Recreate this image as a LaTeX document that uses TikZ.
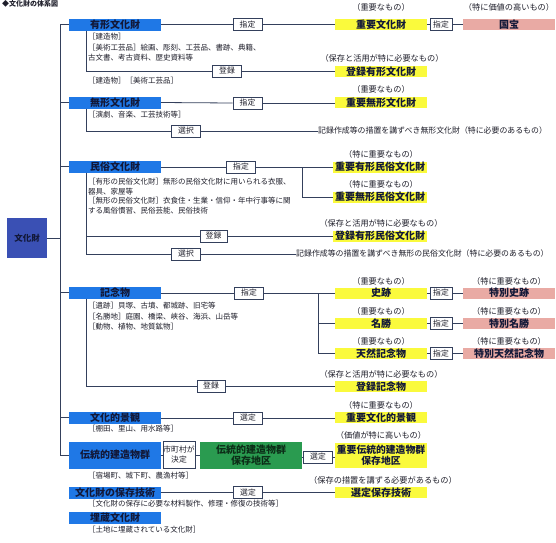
\documentclass[tikz,border=0pt]{standalone}
\usepackage{fontspec}
\setmainfont{Noto Sans CJK JP}
\definecolor{catblue}{HTML}{1F78E6}
\definecolor{rootblue}{HTML}{3A50B4}
\definecolor{yel}{HTML}{FAFA3C}
\definecolor{pnk}{HTML}{E9AAA4}
\definecolor{grn}{HTML}{2A9B50}
\definecolor{ln}{HTML}{34405C}
\definecolor{txt}{HTML}{1E1E2A}
\definecolor{lbltxt}{HTML}{121838}
\definecolor{dkgreen}{HTML}{0C2E18}
\begin{document}
\begin{tikzpicture}[x=1pt,y=-1pt,
  cat/.style={fill=catblue, minimum width=92pt, minimum height=12pt, inner sep=0pt, text=lbltxt, font=\bfseries\fontsize{10}{10}\selectfont},
  ybox/.style={fill=yel, minimum width=92pt, minimum height=11pt, inner sep=0pt, text=lbltxt, font=\bfseries\fontsize{10}{10}\selectfont},
  pbox/.style={fill=pnk, minimum width=92pt, minimum height=11pt, inner sep=0pt, text=lbltxt, font=\bfseries\fontsize{10}{10}\selectfont},
  lbl/.style={draw=ln, fill=white, line width=0.7pt, minimum width=29pt, minimum height=12pt, inner sep=0pt, text=txt, font=\fontsize{7.8}{8}\selectfont},
  lbls/.style={lbl, minimum width=22pt},
  capt/.style={inner sep=0pt, text=txt, font=\fontsize{8.2}{8.5}\selectfont},
  note/.style={anchor=west, inner sep=0pt, text=txt, font=\fontsize{7.5}{8}\selectfont},
  longt/.style={anchor=west, inner sep=0pt, text=txt, font=\fontsize{7.9}{8.5}\selectfont},
  conn/.style={draw=ln, line width=0.8pt}]
\useasboundingbox (0,0) rectangle (556,542);
\clip (0,0) rectangle (556,542);
\fill[white] (0,0) rectangle (556,542);

% title
\node[anchor=north west, inner sep=0pt, text=txt, font=\bfseries\fontsize{7}{8}\selectfont] (title) at (2,0.5) {◆文化財の体系図};

\coordinate (trunkx) at (60,0);
\coordinate (subx) at (86,0);

% root
\node[fill=rootblue, minimum width=40pt, minimum height=40pt, inner sep=0pt, text=lbltxt, font=\bfseries\fontsize{8.5}{9}\selectfont] (root) at (27,238) {文化財};

% categories
\node[cat] (c1) at (115,24.5) {有形文化財};
\node[cat] (c2) at (115,102.5) {無形文化財};
\node[cat] (c3) at (115,166.5) {民俗文化財};
\node[cat] (c4) at (115,292.5) {記念物};
\node[cat] (c5) at (115,417.5) {文化的景観};
\node[cat, minimum height=27pt] (c6) at (115,455) {伝統的建造物群};
\node[cat] (c7) at (115,493) {文化財の保存技術};
\node[cat] (c8) at (115,517.5) {埋蔵文化財};

% trunk
\draw[conn] (c1.west) -- (c1.west -| trunkx) -- (c6.west -| trunkx) -- (c6.west);
\draw[conn] (c2.west) -- (c2.west -| trunkx);
\draw[conn] (c3.west) -- (c3.west -| trunkx);
\draw[conn] (c4.west) -- (c4.west -| trunkx);
\draw[conn] (c5.west) -- (c5.west -| trunkx);
\draw[conn] (root.east) -- (root.east -| trunkx);

% ---------- 有形文化財
\node[note] (n1a) at (88,37) {［建造物］};
\node[note] (n1b) at (88,48) {［美術工芸品］絵画、彫刻、工芸品、書跡、典籍、};
\node[note] (n1c) at (88,58) {古文書、考古資料、歴史資料等};
\node[note] (n1d) at (88,81) {［建造物］［美術工芸品］};
\node[lbl] (s1) at (247.5,24.5) {指定};
\node[ybox] (y1) at (381,24.5) {重要文化財};
\node[capt] (k1) at (381,7) {（重要なもの）};
\node[lbls] (s1b) at (441,24.5) {指定};
\node[pbox] (p1) at (509,24.5) {国宝};
\node[capt] (k1b) at (509,7) {（特に価値の高いもの）};
\draw[conn] (c1.east) -- (s1.west);
\draw[conn] (s1.east) -- (y1.west);
\draw[conn] (y1.east) -- (s1b.west);
\draw[conn] (s1b.east) -- (p1.west);
\node[lbl] (r1) at (227,71) {登録};
\node[ybox] (y2) at (381,71.5) {登録有形文化財};
\node[capt] (k2) at (382,58) {（保存と活用が特に必要なもの）};
\draw[conn] (c1.south -| subx) |- (r1.west);
\draw[conn] (r1.east) -- (y2.west |- r1);

% ---------- 無形文化財
\node[note] (n2a) at (88,115) {［演劇、音楽、工芸技術等］};
\node[lbl] (s2) at (247.5,103) {指定};
\node[ybox] (y3) at (381,102.5) {重要無形文化財};
\node[capt] (k3) at (381,89) {（重要なもの）};
\draw[conn] (c2.east) -- (s2.west);
\draw[conn] (s2.east) -- (y3.west |- s2);
\node[lbl] (e2) at (186,131) {選択};
\node[longt] (t2) at (318,130.5) {記録作成等の措置を講ずべき無形文化財（特に必要のあるもの）};
\draw[conn] (c2.south -| subx) |- (e2.west);
\draw[conn] (e2.east) -- (t2.west |- e2);

% ---------- 民俗文化財
\node[note] (n3a) at (88,182) {［有形の民俗文化財］無形の民俗文化財に用いられる衣服、};
\node[note] (n3b) at (88,192) {器具、家屋等};
\node[note] (n3c) at (88,201) {［無形の民俗文化財］衣食住・生業・信仰・年中行事等に関};
\node[note] (n3d) at (88,210.5) {する風俗慣習、民俗芸能、民俗技術};
\node[lbl] (s3) at (241,167) {指定};
\node[ybox, minimum width=94pt] (y4) at (380,167) {重要有形民俗文化財};
\node[capt] (k4) at (381,154) {（特に重要なもの）};
\node[ybox, minimum width=94pt] (y5) at (380,197) {重要無形民俗文化財};
\node[capt] (k5) at (381,184) {（特に重要なもの）};
\coordinate (j3) at (302,167);
\draw[conn] (c3.east |- s3) -- (s3.west);
\draw[conn] (s3.east) -- (y4.west);
\draw[conn] (j3) |- (y5.west);
\node[lbl, minimum width=27pt] (r3) at (213.5,236) {登録};
\node[ybox, minimum width=94pt] (y6) at (380,236) {登録有形民俗文化財};
\node[capt] (k6) at (381,223) {（保存と活用が特に必要なもの）};
\node[lbl] (e3) at (186,254) {選択};
\node[longt] (t3) at (296,253) {記録作成等の措置を講ずべき無形の民俗文化財（特に必要のあるもの）};
\draw[conn] (c3.south -| subx) |- (e3.west);
\draw[conn] (subx |- r3) -- (r3.west);
\draw[conn] (r3.east) -- (y6.west);
\draw[conn] (e3.east) -- (t3.west |- e3);

% ---------- 記念物
\node[note] (n4a) at (88,306) {［遺跡］貝塚、古墳、都城跡、旧宅等};
\node[note] (n4b) at (88,316.5) {［名勝地］庭園、橋梁、峡谷、海浜、山岳等};
\node[note] (n4c) at (88,327) {［動物、植物、地質鉱物］};
\node[lbl] (s4) at (249,293) {指定};
\coordinate (j4) at (318,293);
\node[ybox] (y7) at (381,293) {史跡};
\node[capt] (k7) at (381,281) {（重要なもの）};
\node[ybox] (y8) at (381,323.5) {名勝};
\node[capt] (k8) at (381,311) {（重要なもの）};
\node[ybox] (y9) at (381,353.5) {天然記念物};
\node[capt] (k9) at (381,341) {（重要なもの）};
\node[lbls] (s4b) at (441,293) {指定};
\node[lbls] (s4c) at (441,323.5) {指定};
\node[lbls] (s4d) at (441,353.5) {指定};
\node[pbox] (p2) at (509,293) {特別史跡};
\node[capt] (k10) at (509,281) {（特に重要なもの）};
\node[pbox] (p3) at (509,323.5) {特別名勝};
\node[capt] (k11) at (509,311) {（特に重要なもの）};
\node[pbox] (p4) at (509,353.5) {特別天然記念物};
\node[capt] (k12) at (509,341) {（特に重要なもの）};
\draw[conn] (c4.east |- s4) -- (s4.west);
\draw[conn] (s4.east) -- (y7.west);
\draw[conn] (j4) |- (y8.west);
\draw[conn] (j4) |- (y9.west);
\draw[conn] (y7.east) -- (s4b.west);
\draw[conn] (s4b.east) -- (p2.west);
\draw[conn] (y8.east) -- (s4c.west);
\draw[conn] (s4c.east) -- (p3.west);
\draw[conn] (y9.east) -- (s4d.west);
\draw[conn] (s4d.east) -- (p4.west);
\node[lbl, minimum width=28pt] (r4) at (211,386) {登録};
\node[ybox] (y10) at (381,386.5) {登録記念物};
\node[capt] (k13) at (381,374) {（保存と活用が特に必要なもの）};
\draw[conn] (c4.south -| subx) |- (r4.west);
\draw[conn] (r4.east) -- (y10.west |- r4);

% ---------- 文化的景観
\node[note] (n5a) at (88,429) {［棚田、里山、用水路等］};
\node[lbl] (s5) at (248,418) {選定};
\node[ybox] (y11) at (381,417.5) {重要文化的景観};
\node[capt] (k14) at (381,405) {（特に重要なもの）};
\draw[conn] (c5.east |- s5) -- (s5.west);
\draw[conn] (s5.east) -- (y11.west |- s5);

% ---------- 伝統的建造物群
\node[note] (n6a) at (88,475.5) {［宿場町、城下町、農漁村等］};
\node[lbl, minimum width=32pt, minimum height=27pt, align=center, font=\fontsize{7.8}{10}\selectfont] (m6) at (179,455) {市町村が\\決定};
\node[fill=grn, minimum width=102pt, minimum height=27pt, inner sep=0pt, align=center, text=dkgreen, font=\bfseries\fontsize{10}{11.5}\selectfont] (g6) at (251,455) {伝統的建造物群\\保存地区};
\node[lbl, minimum width=29pt] (s6) at (318,457) {選定};
\node[ybox, minimum height=25pt, align=center, font=\bfseries\fontsize{9.8}{11.5}\selectfont] (y12) at (381,455.5) {重要伝統的建造物群\\保存地区};
\node[capt] (k15) at (381,435.5) {（価値が特に高いもの）};
\draw[conn] (c6.east) -- (m6.west);
\draw[conn] (m6.east) -- (g6.west);
\draw[conn] (g6.east |- s6) -- (s6.west);
\draw[conn] (s6.east) -- (y12.west |- s6);

% ---------- 文化財の保存技術
\node[note] (n7a) at (88,504) {［文化財の保存に必要な材料製作、修理・修復の技術等］};
\node[lbl] (s7) at (248,492.5) {選定};
\node[ybox] (y13) at (381,492.5) {選定保存技術};
\node[capt] (k16) at (383,480) {（保存の措置を講ずる必要があるもの）};
\draw[conn] (c7.east |- s7) -- (s7.west);
\draw[conn] (s7.east) -- (y13.west);

% ---------- 埋蔵文化財
\node[note] (n8a) at (88,529.5) {［土地に埋蔵されている文化財］};
\end{tikzpicture}
\end{document}
